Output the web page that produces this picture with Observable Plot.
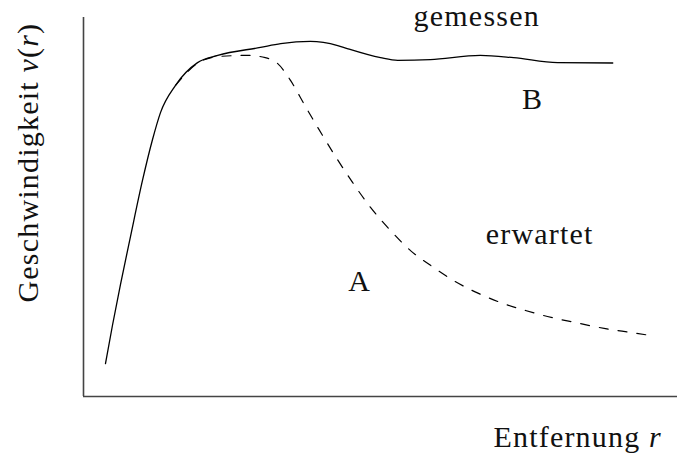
<!DOCTYPE html>
<html>
<head>
<meta charset="utf-8">
<script src="https://cdn.jsdelivr.net/npm/d3@7"></script>
<script src="https://cdn.jsdelivr.net/npm/@observablehq/plot@0.6"></script>
<style>
  html, body { margin: 0; padding: 0; background: #fff; }
  #chart svg { display: block; }
  #chart svg text { font-family: "Liberation Serif", "DejaVu Serif", serif !important; }
</style>
</head>
<body>
<div id="chart"></div>
<script>
// Measured curve ("gemessen"): distance r, speed v
const measuredR = [0.370, 0.488, 0.623, 0.791, 0.993, 1.162, 1.296, 1.549, 1.92, 2.26, 2.98, 3.32, 3.82, 4.28, 4.44, 5.00, 5.29, 5.84, 6.68, 7.24, 7.98, 8.91];
const measuredV = [0.087, 0.188, 0.296, 0.422, 0.570, 0.678, 0.749, 0.821, 0.881, 0.900, 0.921, 0.931, 0.937, 0.926, 0.918, 0.894, 0.887, 0.889, 0.900, 0.894, 0.881, 0.880];

// Expected curve ("erwartet")
const expectedR = [1.55, 1.92, 2.26, 2.76, 3.06, 3.266, 3.485, 3.737, 4.024, 4.276, 4.529, 4.832, 5.168, 5.505, 5.842, 6.229, 6.650, 7.020, 7.441, 7.811, 8.283, 8.788, 9.209, 9.545];
const expectedV = [0.821, 0.879, 0.897, 0.900, 0.894, 0.879, 0.834, 0.765, 0.689, 0.625, 0.565, 0.499, 0.438, 0.385, 0.346, 0.306, 0.272, 0.248, 0.227, 0.211, 0.195, 0.179, 0.169, 0.161];

// Annotation labels
const labelText = ["gemessen", "B", "erwartet", "A"];
const labelR = [6.62, 7.56, 7.68, 4.65];
const labelV = [1.004, 0.785, 0.429, 0.305];

// Axis titles
const xTitle = "Entfernung r";
const yTitle = "Geschwindigkeit v(r)";
const xTitlePos = [8.32, -0.109];
const yTitlePos = [-0.936, 0.617];

const measured = measuredR.map((r, i) => ({r, v: measuredV[i]}));
const expected = expectedR.map((r, i) => ({r, v: expectedV[i]}));
const labels = labelText.map((t, i) => ({t, r: labelR[i], v: labelV[i]}));

const font = "Liberation Serif";

const chart = Plot.plot({
  width: 677,
  height: 456,
  marginLeft: 83,
  marginRight: 0,
  marginTop: 17,
  marginBottom: 60,
  style: {background: "#fff", overflow: "visible"},
  x: {domain: [0, 10], axis: null},
  y: {domain: [0, 1], axis: null},
  marks: [
    Plot.ruleX([0], {stroke: "#444", strokeWidth: 1.6}),
    Plot.ruleY([0], {stroke: "#444", strokeWidth: 1.6}),
    Plot.line(expected, {x: "r", y: "v", curve: "monotone-x", stroke: "#000", strokeWidth: 1.2, strokeDasharray: "9,10"}),
    Plot.line(measured, {x: "r", y: "v", curve: "monotone-x", stroke: "#000", strokeWidth: 1.3}),
    Plot.text(labels, {x: "r", y: "v", text: "t", fontFamily: font, fontSize: 30, fill: "#111", textAnchor: "middle", lineAnchor: "middle"}),
    Plot.text([xTitle], {x: () => xTitlePos[0], y: () => xTitlePos[1], text: d => d, fontFamily: font, fontSize: 30, fill: "#111", textAnchor: "middle", lineAnchor: "middle"}),
    Plot.text([yTitle], {x: () => yTitlePos[0], y: () => yTitlePos[1], text: d => d, fontFamily: font, fontSize: 30, fill: "#111", textAnchor: "middle", lineAnchor: "middle", rotate: -90})
  ]
});

// letter spacing to approximate the wider LaTeX font, and italic math variables
d3.select(chart).selectAll("text").style("letter-spacing", "1.2px").each(function () {
  const el = d3.select(this);
  const s = el.text();
  if (s === xTitle || s === yTitle) {
    el.text(null);
    const tokens = s === xTitle
      ? [["Entfernung ", false], ["r", true]]
      : [["Geschwindigkeit ", false], ["v", true], ["(", false], ["r", true], [")", false]];
    for (const [t, it] of tokens) {
      el.append("tspan").attr("font-style", it ? "italic" : null).text(t);
    }
  }
});

document.getElementById("chart").appendChild(chart);
</script>
</body>
</html>
